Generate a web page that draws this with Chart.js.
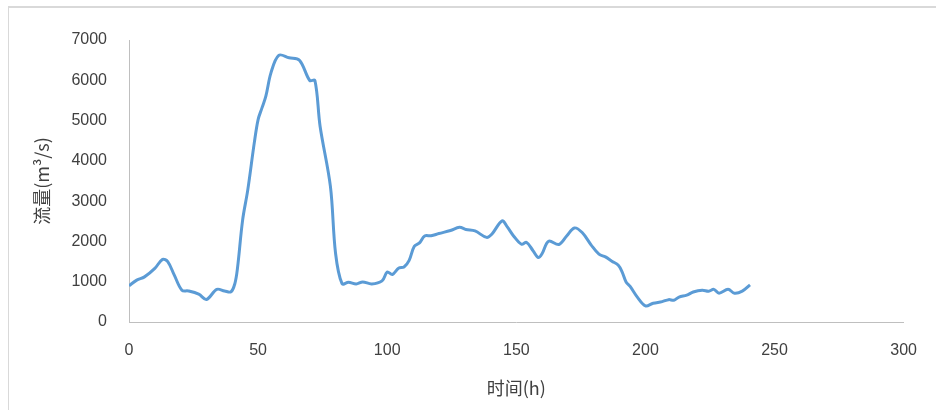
<!DOCTYPE html>
<html>
<head>
<meta charset="utf-8">
<script src="https://cdn.jsdelivr.net/npm/chart.js@4/dist/chart.umd.min.js"></script>
<style>
  html, body { margin: 0; padding: 0; background: #fff; }
  #wrap { position: relative; width: 936px; height: 410px; overflow: hidden; }
  #frame { position: absolute; left: 8px; top: 6px; width: 1000px; height: 1000px;
           border-left: 1px solid #d9d9d9; border-top: 2px solid #d9d9d9; }
  #chart { position: absolute; left: 0; top: 0; }
</style>
</head>
<body>
<div id="wrap">
  <div id="frame"></div>
  <canvas id="chart" width="936" height="410"></canvas>
</div>
<script>
// 时间 (h)
const HOURS = [
  0, 3, 6, 10, 13, 15, 17.5, 20.5, 23, 27, 30, 34, 37, 39.5, 41, 42, 44, 46, 48.5, 50,
  51.5, 53, 55, 58, 62, 66, 70, 72, 74, 78, 80, 82.5, 85, 88, 90.5, 94, 98, 100, 102, 104.5,
  106.5, 108.5, 110.5, 112.5, 114.5, 117, 120, 124.5, 128, 130.5, 134, 138.5, 140.5, 144.5, 146.5, 149,
  152, 154, 156.5, 158.5, 160, 162.5, 166.5, 169.5, 172.5, 175.5, 179, 182, 184.5, 187, 189.5, 191,
  192.5, 194, 197, 200, 203, 206.5, 209, 211, 213, 216, 218.5, 222, 224.5, 226.5, 228.5, 232,
  234.5, 237.5, 240.5
];
// 流量 (m3/s)
const FLOW = [
  900, 1040, 1120, 1330, 1555, 1500, 1170, 790, 770, 690, 560, 810, 770, 750, 955, 1330, 2530, 3280, 4440, 5025,
  5315, 5605, 6190, 6620, 6560, 6500, 5995, 5995, 4860, 3365, 1700, 950, 985, 945, 995, 945, 1020, 1240, 1180, 1340,
  1365, 1530, 1880, 1965, 2135, 2140, 2195, 2270, 2350, 2295, 2260, 2100, 2180, 2510, 2360, 2130,
  1930, 1975, 1765, 1600, 1700, 2005, 1925, 2135, 2335, 2220, 1910, 1685, 1615, 1510, 1410, 1240,
  995, 890, 605, 400, 465, 505, 555, 540, 620, 665, 745, 790, 765, 810, 715, 810,
  715, 765, 920
];
const X_MIN = 0, X_MAX = 300, X_STEP = 50;
const Y_MIN = 0, Y_MAX = 7000, Y_STEP = 1000;

const TICK_FONT = { family: "'Liberation Sans', Arial, sans-serif", size: 16 };
const TITLE_FONT = { family: "'Noto Sans CJK SC', 'Liberation Sans', sans-serif", size: 18 };
const AXIS_COLOR = "#bfbfbf";
const TEXT_COLOR = "#404040";

const points = HOURS.map((h, i) => ({ x: h, y: FLOW[i] }));

new Chart(document.getElementById("chart"), {
  type: "line",
  data: {
    datasets: [{
      data: points,
      borderColor: "#5b9bd5",
      borderWidth: 3,
      pointRadius: 0,
      tension: 0.35,
      fill: false
    }]
  },
  options: {
    responsive: false,
    animation: false,
    devicePixelRatio: 1,
    layout: { padding: { top: 40, right: 26, bottom: 0, left: 0 } },
    plugins: { legend: { display: false }, tooltip: { enabled: false } },
    scales: {
      x: {
        type: "linear",
        min: X_MIN, max: X_MAX,
        grid: { display: false, drawTicks: false },
        border: { display: true, color: AXIS_COLOR, width: 1 },
        ticks: { stepSize: X_STEP, padding: 19, color: TEXT_COLOR, font: TICK_FONT, maxRotation: 0,
                 callback: (v) => String(v) },
        title: { display: true, text: "时间(h)", color: TEXT_COLOR, font: TITLE_FONT, padding: { top: 0, bottom: 11 } },
        afterFit: (s) => { s.height = 88; }
      },
      y: {
        min: Y_MIN, max: Y_MAX,
        grid: { display: false, drawTicks: false },
        border: { display: true, color: AXIS_COLOR, width: 1 },
        ticks: { stepSize: Y_STEP, padding: 22, color: TEXT_COLOR, font: TICK_FONT,
                 callback: (v) => String(v) },
        title: { display: true, text: "流量(m³/s)", color: TEXT_COLOR, font: TITLE_FONT, padding: { top: 31, bottom: 0 } },
        afterFit: (s) => { s.width = 129; }
      }
    }
  }
});
</script>
</body>
</html>
